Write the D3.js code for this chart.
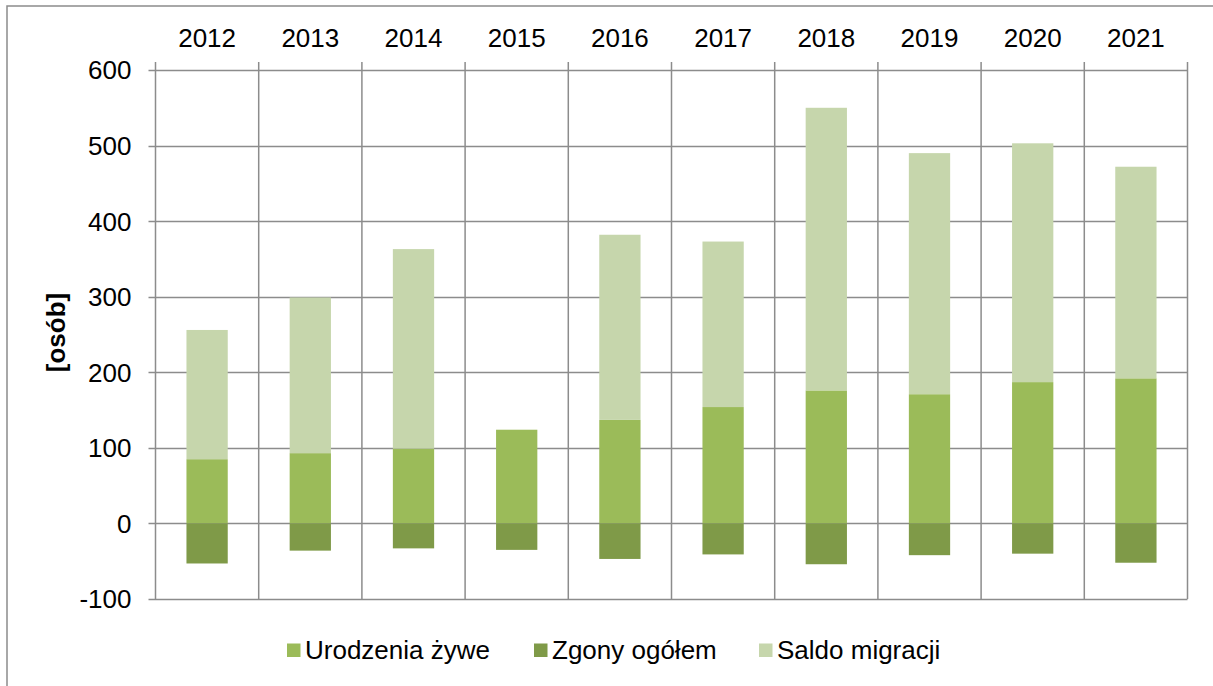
<!DOCTYPE html>
<html><head><meta charset="utf-8">
<script src="https://cdn.jsdelivr.net/npm/d3@7"></script>
<style>
body{margin:0;background:#fff;}
svg{display:block;font-family:"Liberation Sans",Arial,sans-serif;}
</style></head>
<body><svg id="c" width="1213" height="686"></svg>
<script>
const years = ["2012","2013","2014","2015","2016","2017","2018","2019","2020","2021"];
const births = [85, 93, 99, 124, 137, 154, 176, 171, 187, 192];
const deaths = [-53, -36, -33, -35, -47, -41, -54, -42, -40, -52];
const migration = [171, 206, 264, 0, 245, 219, 374, 319, 316, 280];
const seriesNames = ["Urodzenia żywe", "Zgony ogółem", "Saldo migracji"];
const seriesColors = ["#9BBB59", "#7F9A48", "#C6D6AC"];
const yTicks = [-100, 0, 100, 200, 300, 400, 500, 600];
const yLabel = "[osób]";

const keys = ["b","d","m"];
const rows = years.map((y,i)=>({year:y, b:births[i], d:deaths[i], m:migration[i]}));
const stacked = d3.stack().keys(keys).offset(d3.stackOffsetDiverging)(rows);

const svg = d3.select("#c");
const L=155.5, R=1187.5, T=70, B=599;
const x = d3.scaleBand().domain(years).range([L,R]).padding(0);
const y = d3.scaleLinear().domain([-100,600]).range([B,T]);
const grid = "#8c8c8c";
const FS = 26;

// outer border
svg.append("rect").attr("x",7).attr("y",6).attr("width",1230).attr("height",700)
  .attr("fill","none").attr("stroke",grid).attr("stroke-width",1.5);

// horizontal grid
svg.append("g").selectAll("line").data(yTicks).join("line")
  .attr("x1",L-7).attr("x2",R).attr("y1",d=>Math.round(y(d))+0.5).attr("y2",d=>Math.round(y(d))+0.5)
  .attr("stroke",grid).attr("stroke-width",1.5);
// vertical grid (band edges)
const edges = years.map(d=>x(d)).concat([R]);
svg.append("g").selectAll("line").data(edges).join("line")
  .attr("x1",d=>d).attr("x2",d=>d).attr("y1",T-8).attr("y2",B)
  .attr("stroke",grid).attr("stroke-width",1.5);

// bars
const bw = x.bandwidth()*0.4;
svg.append("g").selectAll("g").data(stacked).join("g")
  .attr("fill",(d,i)=>seriesColors[i])
  .selectAll("rect").data(d=>d).join("rect")
  .attr("x",d=>x(d.data.year)+x.bandwidth()/2-bw/2)
  .attr("width",bw)
  .attr("y",d=>y(Math.max(d[0],d[1])))
  .attr("height",d=>Math.abs(y(d[0])-y(d[1])));

// y axis labels
svg.append("g").selectAll("text").data(yTicks).join("text")
  .attr("x",L-24).attr("y",d=>y(d)).attr("dy","0.36em")
  .attr("text-anchor","end").attr("font-size",FS).attr("fill","#000")
  .text(d=>d);

// category labels on top
svg.append("g").selectAll("text").data(years).join("text")
  .attr("x",d=>x(d)+x.bandwidth()/2).attr("y",47)
  .attr("text-anchor","middle").attr("font-size",FS).attr("fill","#000")
  .text(d=>d);

// y title
svg.append("text").attr("transform",`translate(64.5,332.5) rotate(-90)`)
  .attr("text-anchor","middle").attr("font-size",FS).attr("font-weight","bold")
  .text(yLabel);

// legend
const legX = [287, 534, 759];
const leg = svg.append("g").selectAll("g").data(seriesNames).join("g")
  .attr("transform",(d,i)=>`translate(${legX[i]},0)`);
leg.append("rect").attr("x",0).attr("y",643.5).attr("width",13.5).attr("height",13.5)
  .attr("fill",(d,i)=>seriesColors[i]);
leg.append("text").attr("x",18).attr("y",658.5)
  .attr("font-size",FS).text(d=>d);
</script></body></html>
